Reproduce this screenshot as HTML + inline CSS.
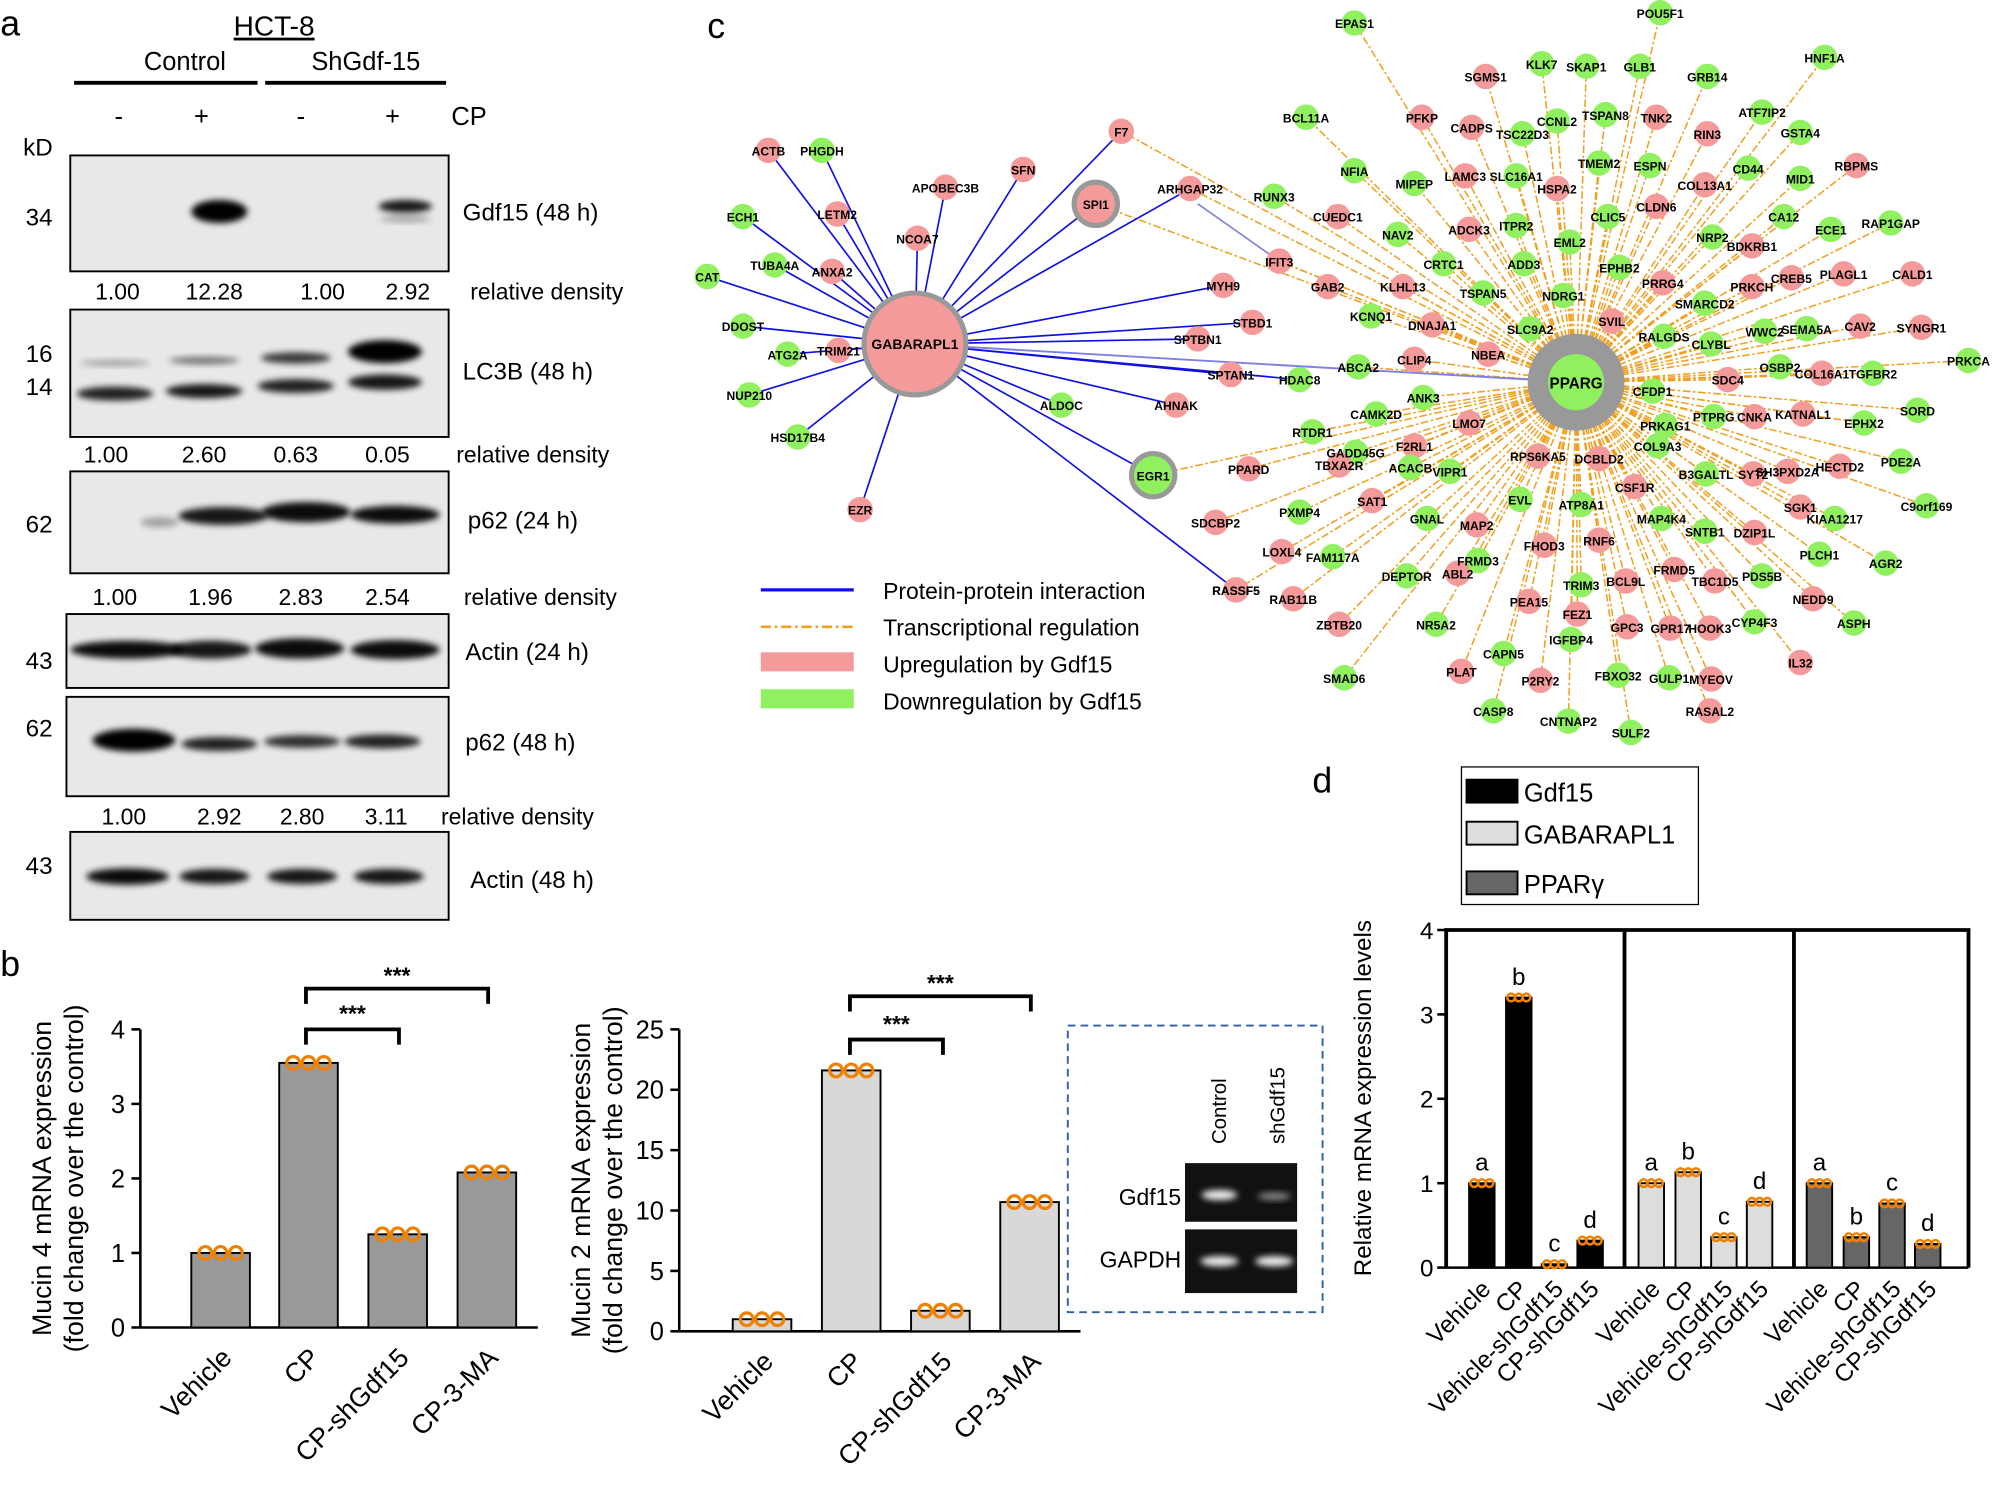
<!DOCTYPE html>
<html><head><meta charset="utf-8">
<style>
html,body{margin:0;padding:0;background:#fff;}
svg{display:block;}
text{font-family:"Liberation Sans",sans-serif;}
</style></head>
<body>
<svg id="s" width="1998" height="1488" viewBox="0 0 1568 1168" xmlns="http://www.w3.org/2000/svg">
<defs>
<filter id="bl" x="-20%" y="-50%" width="140%" height="200%"><feGaussianBlur stdDeviation="2.5"/></filter>
</defs>
<rect width="1568" height="1168" fill="#fff"/>
<!-- panel labels -->
<text x="0" y="28" font-size="28">a</text>
<text x="0" y="766" font-size="28">b</text>
<text x="555" y="30" font-size="28">c</text>
<text x="1030" y="622" font-size="28">d</text>

<!-- panel a header -->
<text x="215" y="28" font-size="22" text-anchor="middle" text-decoration="underline">HCT-8</text>
<text x="145" y="55" font-size="20" text-anchor="middle">Control</text>
<text x="287" y="55" font-size="20" text-anchor="middle">ShGdf-15</text>
<line x1="58" y1="65" x2="202" y2="65" stroke="#000" stroke-width="3"/>
<line x1="208" y1="65" x2="350" y2="65" stroke="#000" stroke-width="3"/>
<g font-size="20" text-anchor="middle"><text x="93" y="98">-</text><text x="158" y="98">+</text><text x="236" y="98">-</text><text x="308" y="98">+</text><text x="368" y="98">CP</text></g>
<text x="18" y="122" font-size="19">kD</text>
<g id="blots"></g>
<g font-size="19">
<text x="20" y="177">34</text><text x="20" y="284">16</text><text x="20" y="310">14</text>
<text x="20" y="418">62</text><text x="20" y="525">43</text><text x="20" y="578">62</text><text x="20" y="686">43</text>
<text x="363" y="173">Gdf15 (48 h)</text><text x="363" y="298">LC3B (48 h)</text>
<text x="367" y="415">p62 (24 h)</text><text x="365" y="518">Actin (24 h)</text>
<text x="365" y="589">p62 (48 h)</text><text x="369" y="697">Actin (48 h)</text>
</g>
<g font-size="18" text-anchor="middle">
<text x="92" y="235">1.00</text><text x="168" y="235">12.28</text><text x="253" y="235">1.00</text><text x="320" y="235">2.92</text><text x="429" y="235">relative density</text>
<text x="83" y="363">1.00</text><text x="160" y="363">2.60</text><text x="232" y="363">0.63</text><text x="304" y="363">0.05</text><text x="418" y="363">relative density</text>
<text x="90" y="475">1.00</text><text x="165" y="475">1.96</text><text x="236" y="475">2.83</text><text x="304" y="475">2.54</text><text x="424" y="475">relative density</text>
<text x="97" y="647">1.00</text><text x="172" y="647">2.92</text><text x="237" y="647">2.80</text><text x="303" y="647">3.11</text><text x="406" y="647">relative density</text>
</g>

<g id="net"></g>
<!-- legend c -->
<line x1="597" y1="463" x2="670" y2="463" stroke="#1010e0" stroke-width="2.5"/>
<line x1="597" y1="492" x2="670" y2="492" stroke="#f0a020" stroke-width="2" stroke-dasharray="8,3,2,3"/>
<rect x="597" y="512" width="73" height="15" fill="#f59a9a"/>
<rect x="597" y="541" width="73" height="15" fill="#90f060"/>
<g font-size="18"><text x="693" y="470">Protein-protein interaction</text><text x="693" y="499">Transcriptional regulation</text><text x="693" y="528">Upregulation by Gdf15</text><text x="693" y="557">Downregulation by Gdf15</text></g>

<g id="charts"></g>
</svg>
<script>
const NS="http://www.w3.org/2000/svg";
function el(p,t,a,txt){const e=document.createElementNS(NS,t);for(const k in a)e.setAttribute(k,a[k]);if(txt!==undefined)e.textContent=txt;p.appendChild(e);return e;}
// blots
const B=document.getElementById('blots');
const boxes=[[55,122,297,91],[55,243,297,100],[55,370,297,80],[52,482,300,58],[52,547,300,78],[55,653,297,69]];
boxes.forEach(b=>{el(B,'rect',{x:b[0],y:b[1],width:b[2],height:b[3],fill:'#e8e8e8',stroke:'#000','stroke-width':1.5});});
function band(x,y,w,h,op){el(B,'ellipse',{cx:x,cy:y,rx:w/2,ry:h/2,fill:'#000',opacity:op,filter:'url(#bl)'});}
band(172,166,44,18,1);band(318,162,42,10,0.9);band(318,172,40,5,0.3);
band(90,285,55,5,0.3);band(160,283,55,6,0.5);band(232,281,55,9,0.75);band(302,276,58,18,1);
band(90,309,60,11,0.85);band(160,307,60,11,0.9);band(232,303,60,11,0.85);band(302,300,58,12,0.9);
band(125,410,30,8,0.3);band(175,405,70,14,0.9);band(240,402,70,16,0.95);band(310,404,70,14,0.95);
band(100,510,90,14,0.95);band(165,510,65,14,0.9);band(235,509,70,16,0.95);band(310,510,70,15,0.95);
band(105,581,65,18,1);band(172,584,60,11,0.85);band(237,582,60,10,0.8);band(300,582,60,11,0.85);
band(100,688,65,13,0.95);band(168,688,55,12,0.9);band(237,688,55,12,0.9);band(305,688,55,12,0.9);

// network
const N=document.getElementById('net');
const PP=[1237,300],GA=[718,270];
const G='#90f060',P='#f59a9a';
const nodes=[
[1063,18,'EPAS1',G],[1303,10,'POU5F1',G],[1432,45,'HNF1A',G],[1166,60,'SGMS1',P],[1210,50,'KLK7',G],[1245,52,'SKAP1',G],[1287,52,'GLB1',G],[1340,60,'GRB14',G],[1383,88,'ATF7IP2',G],[1413,104,'GSTA4',G],[1116,92,'PFKP',P],[1155,100,'CADPS',P],[1195,105,'TSC22D3',G],[1222,95,'CCNL2',G],[1260,90,'TSPAN8',G],[1300,92,'TNK2',P],[1340,105,'RIN3',P],
[1025,92,'BCL11A',G],[1063,134,'NFIA',G],[1110,144,'MIPEP',G],[1150,138,'LAMC3',P],[1190,138,'SLC16A1',G],[1222,148,'HSPA2',P],[1255,128,'TMEM2',G],[1295,130,'ESPN',G],[1338,145,'COL13A1',P],[1372,132,'CD44',G],[1413,140,'MID1',G],[1457,130,'RBPMS',P],
[1000,154,'RUNX3',G],[1050,170,'CUEDC1',P],[1097,184,'NAV2',G],[1153,180,'ADCK3',P],[1190,177,'ITPR2',G],[1262,170,'CLIC5',G],[1300,162,'CLDN6',P],[1344,186,'NRP2',G],[1375,193,'BDKRB1',P],[1400,170,'CA12',G],[1437,180,'ECE1',G],[1484,175,'RAP1GAP',G],
[1004,205,'IFIT3',P],[1042,225,'GAB2',P],[1101,225,'KLHL13',P],[1133,207,'CRTC1',G],[1196,207,'ADD3',G],[1232,190,'EML2',G],[1271,210,'EPHB2',G],[1305,222,'PRRG4',P],[1338,238,'SMARCD2',G],[1375,225,'PRKCH',P],[1406,218,'CREB5',P],[1447,215,'PLAGL1',P],[1501,215,'CALD1',P],
[1076,248,'KCNQ1',G],[1124,255,'DNAJA1',P],[1164,230,'TSPAN5',G],[1201,258,'SLC9A2',G],[1227,232,'NDRG1',G],[1265,252,'SVIL',P],[1306,264,'RALGDS',G],[1343,270,'CLYBL',G],[1385,260,'WWC2',G],[1418,258,'SEMA5A',G],[1460,256,'CAV2',P],[1508,257,'SYNGR1',P],
[1066,288,'ABCA2',G],[1110,282,'CLIP4',P],[1168,278,'NBEA',P],[1356,298,'SDC4',P],[1397,288,'OSBP2',G],[1430,293,'COL16A1',P],[1470,293,'TGFBR2',G],[1545,283,'PRKCA',G],
[1080,325,'CAMK2D',G],[1117,312,'ANK3',G],[1297,307,'CFDP1',G],[1307,334,'PRKAG1',G],[1345,327,'PTPRG',G],[1377,327,'CNKA',P],[1415,325,'KATNAL1',P],[1463,332,'EPHX2',G],[1505,322,'SORD',G],
[1030,339,'RTDR1',G],[1064,355,'GADD45G',G],[1110,350,'F2RL1',P],[1153,332,'LMO7',P],[1207,358,'RPS6KA5',P],[1255,360,'DCBLD2',P],[1301,350,'COL9A3',G],[1339,372,'B3GALTL',G],[1376,372,'SYT2',P],[1403,370,'SH3PXD2A',P],[1444,366,'HECTD2',P],[1492,362,'PDE2A',G],
[980,368,'PPARD',P],[1051,365,'TBXA2R',P],[1107,367,'ACACB',G],[1138,370,'VIPR1',G],[1283,382,'CSF1R',P],[1413,398,'SGK1',P],[1440,407,'KIAA1217',G],[1512,397,'C9orf169',G],
[1077,393,'SAT1',P],[1020,402,'PXMP4',G],[1193,392,'EVL',G],[1241,396,'ATP8A1',G],[1304,407,'MAP4K4',G],[1338,417,'SNTB1',G],[1377,418,'DZIP1L',P],[1428,435,'PLCH1',G],[1480,442,'AGR2',G],
[954,410,'SDCBP2',P],[1120,407,'GNAL',G],[1159,412,'MAP2',P],[1212,428,'FHOD3',P],[1255,424,'RNF6',P],[1006,433,'LOXL4',P],[1046,437,'FAM117A',G],[1160,440,'FRMD3',G],[1241,459,'TRIM3',G],[1276,456,'BCL9L',P],[1314,447,'FRMD5',P],[1346,456,'TBC1D5',P],[1383,452,'PDS5B',G],[1423,470,'NEDD9',P],
[970,463,'RASSF5',P],[1015,470,'RAB11B',P],[1104,452,'DEPTOR',G],[1144,450,'ABL2',P],[1200,472,'PEA15',P],[1238,482,'FEZ1',P],[1277,492,'GPC3',P],[1311,493,'GPR17',P],[1342,493,'HOOK3',P],[1377,488,'CYP4F3',G],[1455,489,'ASPH',G],
[1051,490,'ZBTB20',P],[1127,490,'NR5A2',G],[1233,502,'IGFBP4',G],[1180,513,'CAPN5',G],[1147,527,'PLAT',P],[1209,534,'P2RY2',P],[1270,530,'FBXO32',G],[1310,532,'GULP1',G],[1343,533,'MYEOV',P],[1413,520,'IL32',P],
[1055,532,'SMAD6',G],[1172,558,'CASP8',G],[1231,566,'CNTNAP2',G],[1280,575,'SULF2',G],[1342,558,'RASAL2',P]
];
const gnodes=[[603,118,'ACTB',P],[645,118,'PHGDH',G],[583,170,'ECH1',G],[657,168,'LETM2',P],[742,147,'APOBEC3B',P],[720,187,'NCOA7',P],[803,133,'SFN',P],[880,103,'F7',P],[555,217,'CAT',G],[608,208,'TUBA4A',G],[653,213,'ANXA2',P],[583,256,'DDOST',G],[618,278,'ATG2A',G],[658,275,'TRIM21',P],[588,310,'NUP210',G],[626,343,'HSD17B4',G],[675,400,'EZR',P],[934,148,'ARHGAP32',P],[960,224,'MYH9',P],[983,253,'STBD1',P],[940,266,'SPTBN1',P],[966,294,'SPTAN1',P],[1020,298,'HDAC8',G],[833,318,'ALDOC',G],[923,318,'AHNAK',P],[970,463,'RASSF5',P]];
const Lg=el(N,'g',{}),Ng=el(N,'g',{}),Tg=el(N,'g',{'font-size':9.5,'font-weight':'bold','text-anchor':'middle'});
nodes.forEach(n=>el(Lg,'line',{x1:PP[0],y1:PP[1],x2:n[0],y2:n[1],stroke:'#f0a020','stroke-width':1.2,'stroke-dasharray':'6,2,2,2'}));
[[860,160],[905,373],[880,103],[934,148],[1004,205]].forEach(n=>el(Lg,'line',{x1:PP[0],y1:PP[1],x2:n[0],y2:n[1],stroke:'#f0a020','stroke-width':1.2,'stroke-dasharray':'6,2,2,2'}));
[[860,160],[905,373]].forEach(n=>el(Lg,'line',{x1:GA[0],y1:GA[1],x2:n[0],y2:n[1],stroke:'#1010e0','stroke-width':1.3}));
gnodes.forEach(n=>el(Lg,'line',{x1:GA[0],y1:GA[1],x2:n[0],y2:n[1],stroke:'#1010e0','stroke-width':1.3}));
el(Lg,'line',{x1:1004,y1:205,x2:940,y2:160,stroke:'#8080e0','stroke-width':1.3});
el(Lg,'line',{x1:1237,y1:300,x2:718,y2:270,stroke:'#8080e0','stroke-width':1.5});
nodes.concat(gnodes).forEach(n=>{el(Ng,'circle',{cx:n[0],cy:n[1],r:10,fill:n[3]});el(Tg,'text',{x:n[0],y:n[1]+4},n[2]);});
el(Ng,'circle',{cx:GA[0],cy:GA[1],r:40,fill:'#f59a9a',stroke:'#999','stroke-width':4});
el(Tg,'text',{x:GA[0],y:GA[1]+4,'font-size':11},'GABARAPL1');
el(Ng,'circle',{cx:PP[0],cy:PP[1],r:38,fill:'#999'});
el(Ng,'circle',{cx:PP[0],cy:PP[1],r:22,fill:'#90f060'});
el(Tg,'text',{x:PP[0],y:PP[1]+5,'font-size':12},'PPARG');
[[860,160,'SPI1',P],[905,373,'EGR1',G]].forEach(n=>{el(Ng,'circle',{cx:n[0],cy:n[1],r:17,fill:n[3],stroke:'#999','stroke-width':4});el(Tg,'text',{x:n[0],y:n[1]+4},n[2]);});

// charts
const C=document.getElementById('charts');
function chart(ax,y0,y1,maxv,step,bx,vals,fill,label,bw){
  const sc=(y0-y1)/maxv;
  el(C,'line',{x1:ax,y1:y1,x2:ax,y2:y0,stroke:'#000','stroke-width':2});
  el(C,'line',{x1:ax,y1:y0,x2:bx[bx.length-1]+40,y2:y0,stroke:'#000','stroke-width':2});
  for(let v=0;v<=maxv+1e-6;v+=step){const y=y0-v*sc;el(C,'line',{x1:ax-7,y1:y,x2:ax,y2:y,stroke:'#000','stroke-width':2});el(C,'text',{x:ax-12,y:y+7,'font-size':20,'text-anchor':'end'},String(v));}
  bx.forEach((x,i)=>{const h=vals[i]*sc;el(C,'rect',{x:x-bw/2,y:y0-h,width:bw,height:h,fill:fill,stroke:'#000','stroke-width':1.5});
    [-12,0,12].forEach(d=>el(C,'circle',{cx:x+d,cy:y0-h,r:5,fill:'none',stroke:'#f08000','stroke-width':2.5}));});
  const names=['Vehicle','CP','CP-shGdf15','CP-3-MA'];
  bx.forEach((x,i)=>{el(C,'text',{x:x+10,y:y0+25,'font-size':21,'text-anchor':'end',transform:`rotate(-45 ${x+10} ${y0+25})`},names[i]);});
  el(C,'text',{x:0,y:0,'font-size':21,'text-anchor':'middle',transform:`translate(${ax-70},${(y0+y1)/2}) rotate(-90)`},label[0]);
  el(C,'text',{x:0,y:0,'font-size':21,'text-anchor':'middle',transform:`translate(${ax-45},${(y0+y1)/2}) rotate(-90)`},label[1]);
}
chart(110,1042,808,4,1,[173,242,312,382],[1,3.55,1.25,2.08],'#999',['Mucin 4 mRNA expression','(fold change over the control)'],46);
chart(533,1045,808,25,5,[598,668,738,808],[1,21.6,1.7,10.7],'#d8d8d8',['Mucin 2 mRNA expression','(fold change over the control)'],46);
// significance brackets
function br(x1,x2,y,ty){el(C,'path',{d:`M${x1} ${y+12}V${y}H${x2}V${y+12}`,fill:'none',stroke:'#000','stroke-width':3});el(C,'text',{x:(x1+x2)/2,y:ty,'font-size':18,'text-anchor':'middle','font-weight':'bold'},'***');}
br(240,383,776,772);br(240,313,808,802);br(667,809,782,778);br(667,740,816,810);
// inset gel
el(C,'rect',{x:838,y:805,width:200,height:225,fill:'none',stroke:'#3060a0','stroke-width':1.5,'stroke-dasharray':'6,4'});
el(C,'rect',{x:930,y:913,width:88,height:46,fill:'#111'});
el(C,'rect',{x:930,y:965,width:88,height:50,fill:'#111'});
el(C,'ellipse',{cx:957,cy:938,rx:14,ry:4,fill:'#eee',filter:'url(#bl)'});el(C,'ellipse',{cx:1000,cy:939,rx:13,ry:3,fill:'#888',filter:'url(#bl)'});
el(C,'ellipse',{cx:957,cy:990,rx:15,ry:4,fill:'#eee',filter:'url(#bl)'});el(C,'ellipse',{cx:1000,cy:990,rx:15,ry:4,fill:'#eee',filter:'url(#bl)'});
el(C,'text',{x:927,y:946,'font-size':18,'text-anchor':'end'},'Gdf15');el(C,'text',{x:927,y:995,'font-size':18,'text-anchor':'end'},'GAPDH');
el(C,'text',{x:0,y:0,'font-size':16,transform:'translate(962,898) rotate(-90)'},'Control');
el(C,'text',{x:0,y:0,'font-size':16,transform:'translate(1008,898) rotate(-90)'},'shGdf15');
// panel d
el(C,'rect',{x:1147,y:602,width:186,height:108,fill:'#fff',stroke:'#000','stroke-width':1});
[['#000','Gdf15',612],['#ddd','GABARAPL1',645],['#666','PPARγ',684]].forEach(r=>{el(C,'rect',{x:1151,y:r[2],width:40,height:18,fill:r[0],stroke:'#000','stroke-width':1.5});el(C,'text',{x:1196,y:r[2]+17,'font-size':20},r[1]);});
const dy0=995,dy1=730,dsc=(dy0-dy1)/4;
el(C,'path',{d:`M1135 ${dy0}V${dy1}H1545V${dy0}M1275 ${dy1}V${dy0}M1408 ${dy1}V${dy0}`,fill:'none',stroke:'#000','stroke-width':3});
el(C,'line',{x1:1135,y1:dy0,x2:1545,y2:dy0,stroke:'#000','stroke-width':2});
for(let v=0;v<=4;v++){const y=dy0-v*dsc;el(C,'line',{x1:1128,y1:y,x2:1135,y2:y,stroke:'#000','stroke-width':2});el(C,'text',{x:1125,y:y+7,'font-size':19,'text-anchor':'end'},String(v));}
el(C,'text',{x:0,y:0,'font-size':19,'text-anchor':'middle',transform:'translate(1076,862) rotate(-90)'},'Relative mRNA expression levels');
const groups=[[[1163,1192,1220,1248],[1,3.2,0.04,0.32],'#000',['a','b','c','d']],[[1296,1325,1353,1381],[1,1.13,0.36,0.78],'#ddd',['a','b','c','d']],[[1428,1457,1485,1513],[1,0.36,0.76,0.28],'#666',['a','b','c','d']]];
const dn=['Vehicle','CP','Vehicle-shGdf15','CP-shGdf15'];
groups.forEach(g=>{g[0].forEach((x,i)=>{const h=g[1][i]*dsc;el(C,'rect',{x:x-10,y:dy0-h,width:20,height:h,fill:g[2],stroke:'#000','stroke-width':1.5});
  [-6,0,6].forEach(d=>el(C,'circle',{cx:x+d,cy:dy0-h,r:3,fill:'none',stroke:'#f08000','stroke-width':2}));
  el(C,'text',{x:x,y:dy0-h-10,'font-size':19,'text-anchor':'middle'},g[3][i]);
  el(C,'text',{x:x+8,y:dy0+18,'font-size':19,'text-anchor':'end',transform:`rotate(-45 ${x+8} ${dy0+18})`},dn[i]);});});
</script>
</body></html>
